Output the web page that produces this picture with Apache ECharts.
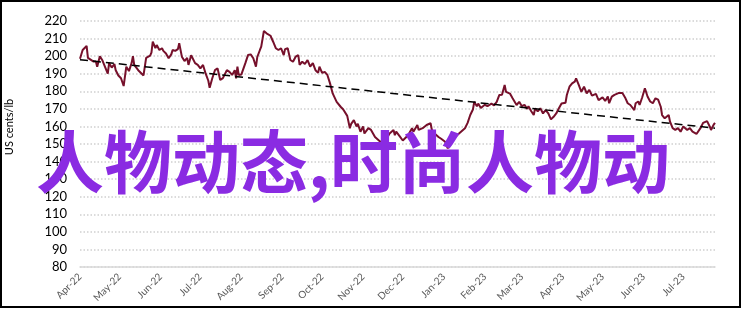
<!DOCTYPE html>
<html>
<head>
<meta charset="utf-8">
<script src="https://cdn.jsdelivr.net/npm/echarts@6/dist/echarts.min.js"></script>
<style>
  html, body { margin: 0; padding: 0; background: #fff; }
  #chart { width: 746px; height: 309px; }
</style>
</head>
<body>
<div id="chart"></div>
<script>
const startDate = [2022, 3, 1]; // 1 Apr 2022
const endOffset = 480;          // days shown after start
const monthLabels = ['Apr-22','May-22','Jun-22','Jul-22','Aug-22','Sep-22','Oct-22','Nov-22','Dec-22',
                     'Jan-23','Feb-23','Mar-23','Apr-23','May-23','Jun-23','Jul-23'];
const yTicks = [80, 90, 100, 110, 120, 130, 140, 150, 160, 170, 180, 190, 200, 210, 220];

const dayOffsets = [0,2,5,6,10,12,13,15,17,21,22,24,26,27,29,31,33,35,37,39,40,41,44,48,49,50,53,54,55,57,58,60,62,63,65,67,69,70,72,74,75,77,79,81,82,84,85,87,89,91,93,95,97,98,
100,102,104,106,108,111,113,115,117,118,119,120,122,125,127,129,131,133,134,136,137,139,141,144,146,148,150,152,154,155,157,159,161,163,165,166,168,170,172,174,176,178,180,181,183,185,187,189,191,194,197,199,
202,204,205,207,209,210,212,214,215,218,220,223,227,231,234,237,238,239,242,244,248,251,252,255,256,259,262,265,266,268,271,273,276,278,281,285,288,291,293,295,297,298,
300,301,303,306,308,311,313,315,317,319,321,322,325,327,330,332,334,336,338,339,341,343,344,346,348,350,352,354,356,358,360,362,364,367,368,370,372,374,375,377,379,381,383,385,387,390,392,395,397,399,
400,402,404,407,410,412,414,416,419,420,422,423,425,427,429,431,433,435,437,439,440,442,445,446,448,450,452,454,456,459,461,463,466,469,471,474,476,477,479,480];

const prices = [198.5,203.5,205.8,199,197,197,194,200,197.5,190,196,193.5,195.5,192,189,187.4,183,194,191.5,196,200,195,192,189,194,199,200.3,202,208.2,204.5,206.3,203.5,204.5,203,201.5,198.8,201,203.5,203,204,207.3,199.7,197.2,199,195,200.5,200,196,195,193,195,190,186,182,
187.4,192,193,186.4,187.5,192,191,189.3,192,187.4,194,189.3,189.6,196,200.6,201,198.8,194,199.5,203.5,205.4,214.3,213,211.6,208.2,204.5,203.5,204.5,200.6,204,204.5,197.8,196.8,199.7,200.6,195,196.8,195.5,197.8,194,196,192,190.5,194,190.5,191,189.3,184.5,178.8,174,171.2,169.6,
166,159,161.5,163.6,160,161.5,157,160,156,159,158,154,151.3,152,156,158,155,157,154,152,155,159,157,160.8,158,159,160.8,161.8,158,156,154,153,151.3,147.5,152,155,157,159,162,166.5,169.6,174,
171.5,173,170.5,172.3,171.5,173,172,174,177.9,178,183.6,179.7,178.7,176,172.2,174,171.5,172.3,170,171.5,168.8,166.5,170.3,168.6,170.3,167.4,169.3,167.4,164,165.5,167.4,170.3,173,173.5,177.9,182.6,184.5,185.5,187.4,183.6,179.7,182.6,178.8,180.8,177.5,178.5,175,176.5,174.5,177,
173.2,177,178,179,179,176.5,173.2,172.2,169.3,173.2,174.2,172.2,176.6,181.7,177,174.2,173.2,176,175.2,171.2,166.5,164.6,166.5,162.7,159,158,159,157,160,158,159,157,155.7,159,162,163,160,158,161,162];

const trendOffsets = [0, 480];
const trendValues = [198, 159];

const yAxisName = 'US cents/lb';
const watermark = '人物动态,时尚人物动';

function dayToTime(d) {
  return new Date(startDate[0], startDate[1], startDate[2] + d).getTime();
}

const priceData = dayOffsets.map((d, i) => [dayToTime(d), prices[i]]);
const trendData = trendOffsets.map((d, i) => [dayToTime(d), trendValues[i]]);

const chart = echarts.init(document.getElementById('chart'), null, { renderer: 'canvas' });

const option = {
  animation: false,
  backgroundColor: '#ffffff',
  grid: { left: 80, right: 31, top: 21, bottom: 42, containLabel: false },
  xAxis: {
    type: 'time',
    min: dayToTime(0),
    max: dayToTime(endOffset),
    minInterval: 28 * 86400000,
    maxInterval: 31 * 86400000,
    axisLine: { show: true, lineStyle: { color: '#d9d9d9', width: 1.5 } },
    axisTick: { show: false },
    splitLine: { show: false },
    axisLabel: {
      rotate: 45,
      margin: 8,
      fontSize: 10,
      fontFamily: 'Lato',
      color: '#595959',
      hideOverlap: false,
      showMinLabel: true,
      formatter: function (val) {
        const d = new Date(val);
        const idx = (d.getFullYear() - 2022) * 12 + d.getMonth() - 3;
        return monthLabels[idx] || '';
      }
    }
  },
  yAxis: {
    type: 'value',
    min: yTicks[0],
    max: yTicks[yTicks.length - 1],
    interval: 10,
    axisLine: { show: false },
    axisTick: { show: false },
    axisLabel: { fontSize: 13, fontFamily: 'Lato', color: '#000', margin: 13 },
    splitLine: { show: true, lineStyle: { color: '#cfcfcf', width: 1.5, type: [1.5, 2] } }
  },
  series: [
    {
      type: 'line',
      data: priceData,
      showSymbol: false,
      lineStyle: { color: '#76102b', width: 2 },
      z: 3
    },
    {
      type: 'line',
      data: trendData,
      showSymbol: false,
      lineStyle: { color: '#000', width: 1.5, type: [8, 5] },
      z: 4
    }
  ],
  graphic: [
    {
      type: 'rect',
      shape: { x: 1, y: 1, width: 739, height: 306 },
      style: { fill: 'none', stroke: '#000', lineWidth: 2 },
      z: 100
    },
    {
      type: 'text',
      x: 9,
      y: 127,
      rotation: Math.PI / 2,
      style: {
        text: yAxisName,
        font: '11px Lato',
        fill: '#000',
        textAlign: 'center',
        textVerticalAlign: 'middle'
      },
      z: 50
    },
    {
      type: 'text',
      x: 353,
      y: 162,
      style: {
        text: watermark,
        font: 'bold 68px "Noto Sans CJK SC"',
        fill: '#8a2be2',
        textAlign: 'center',
        textVerticalAlign: 'middle'
      },
      z: 60
    }
  ]
};

chart.setOption(option);
</script>
</body>
</html>
